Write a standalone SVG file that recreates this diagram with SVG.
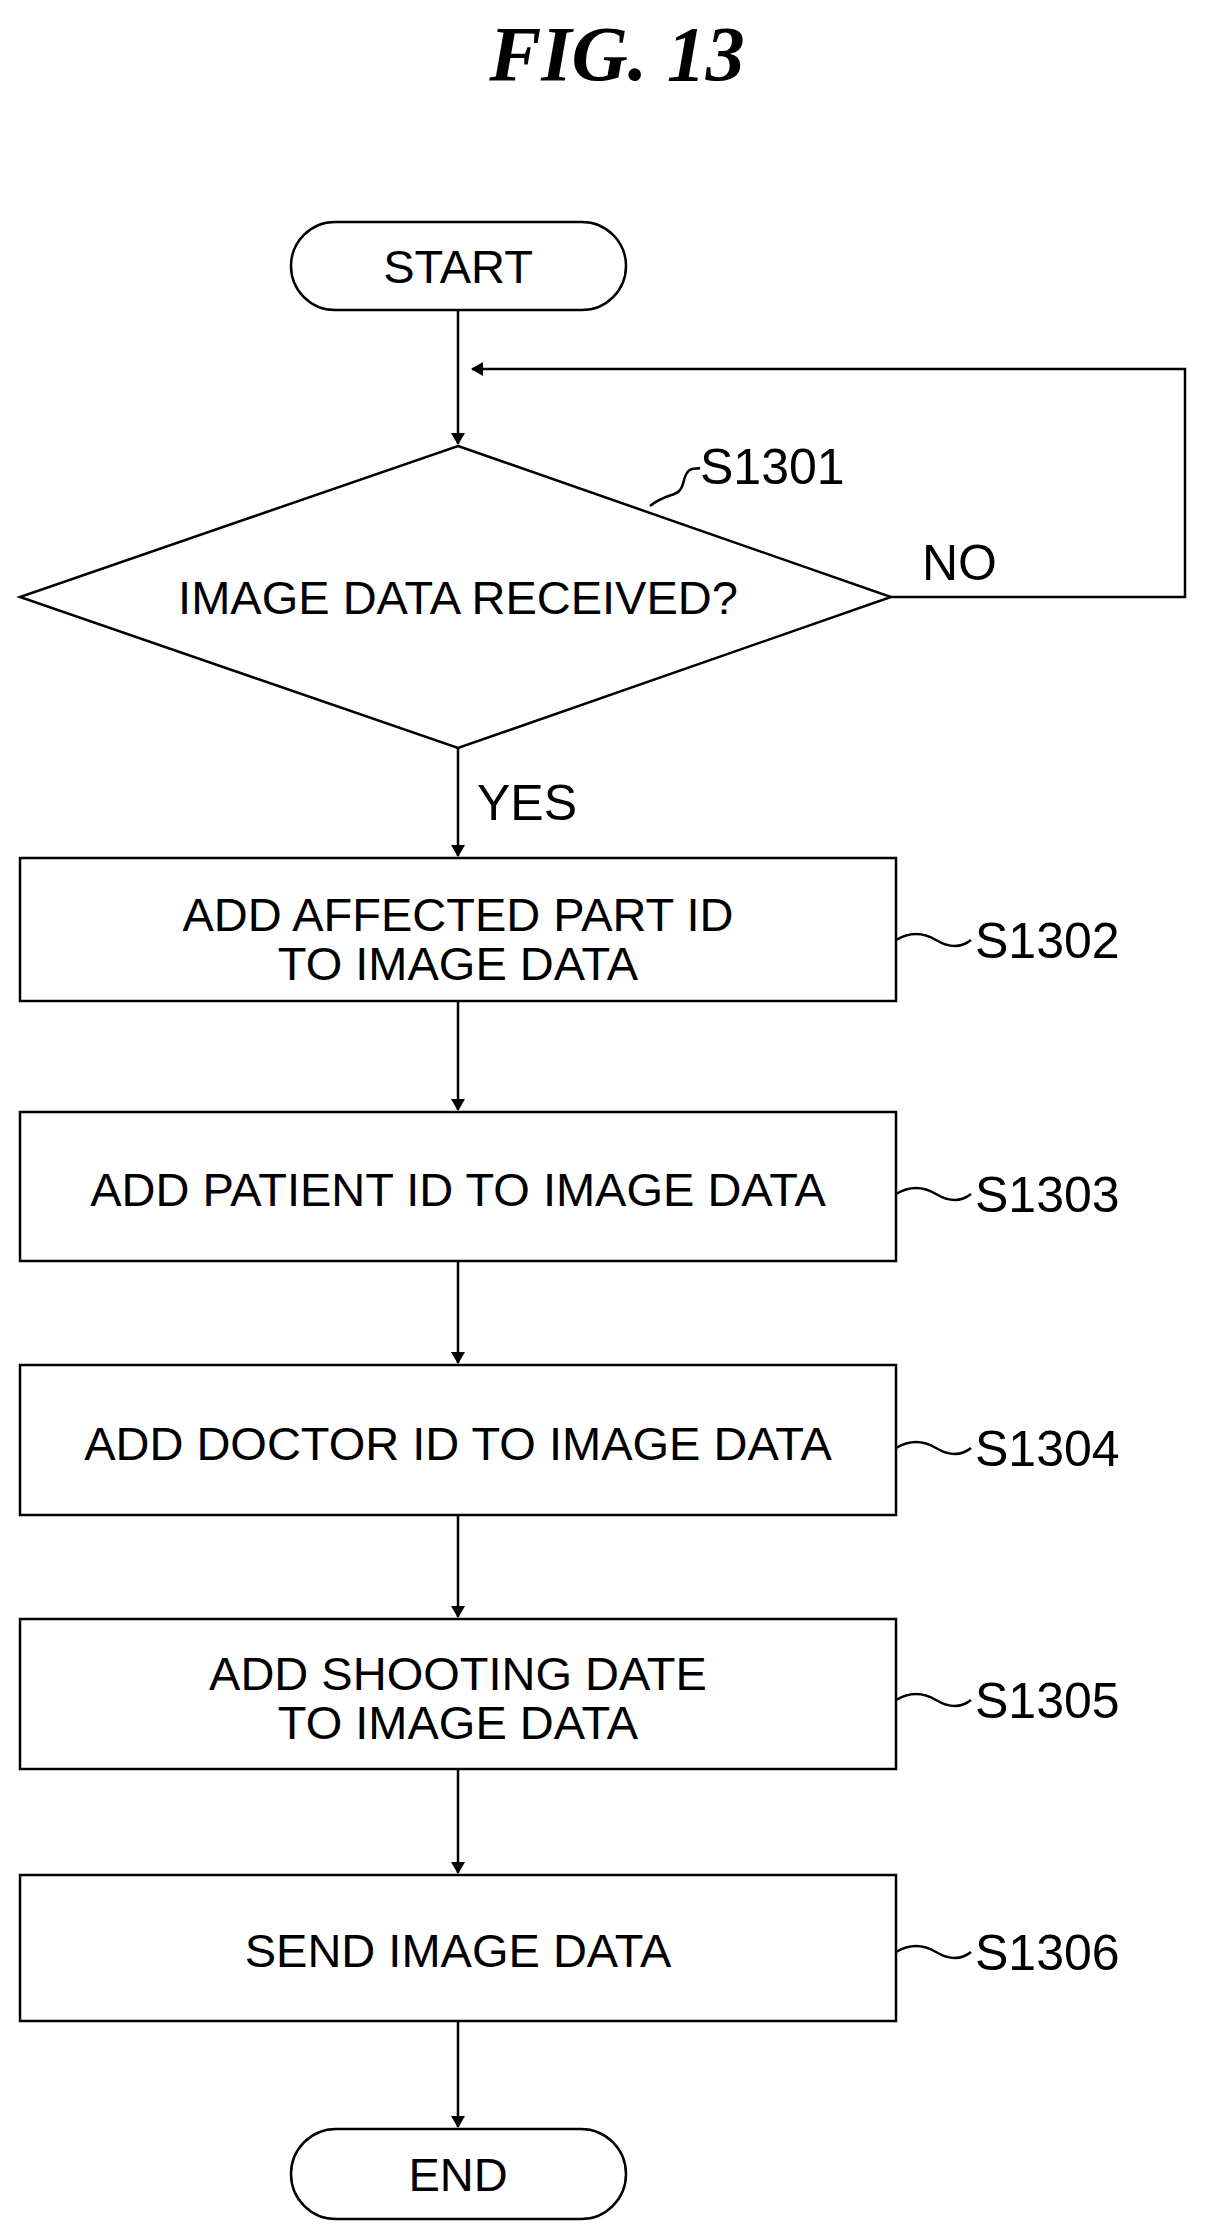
<svg xmlns="http://www.w3.org/2000/svg" width="1231" height="2234" viewBox="0 0 1231 2234">
<style>
.s{fill:none;stroke:#000;stroke-width:2.5}
.t{font-family:"Liberation Sans",Arial,sans-serif;font-size:47px;fill:#000;text-anchor:middle}
.l{font-family:"Liberation Sans",Arial,sans-serif;font-size:50px;fill:#000}
</style>
<defs><marker id="a" markerWidth="12" markerHeight="14" refX="11" refY="7" orient="auto" markerUnits="userSpaceOnUse"><path d="M0,0 L12,7 L0,14 Z" fill="#000"/></marker></defs>
<rect width="1231" height="2234" fill="#fff"/>
<text x="617" y="80" style="font-family:'Liberation Serif',serif;font-size:78px;font-weight:bold;font-style:italic" text-anchor="middle">FIG. 13</text>
<g id="start"><rect class="s" x="291" y="222" width="335" height="88" rx="44"/><text class="t" x="458" y="283">START</text></g>
<g id="s1301"><polygon class="s" points="458,446 891,597 458,748 20,597"/><text class="t" x="458" y="614">IMAGE DATA RECEIVED?</text>
<path class="s" d="M650,506 C670,490 680,500 684,480 C688,465 695,470 700,468"/><text class="l" x="700" y="484">S1301</text></g>
<g id="s1302"><rect class="s" x="20" y="858" width="876" height="143"/><text class="t" x="458" y="931">ADD AFFECTED PART ID</text><text class="t" x="458" y="980">TO IMAGE DATA</text><path class="s" d="M896,940 q20,-12 40,0 t35,0"/><text class="l" x="975" y="958">S1302</text></g>
<g id="s1303"><rect class="s" x="20" y="1112" width="876" height="149"/><text class="t" x="458" y="1206">ADD PATIENT ID TO IMAGE DATA</text><path class="s" d="M896,1194 q20,-12 40,0 t35,0"/><text class="l" x="975" y="1212">S1303</text></g>
<g id="s1304"><rect class="s" x="20" y="1365" width="876" height="150"/><text class="t" x="458" y="1460">ADD DOCTOR ID TO IMAGE DATA</text><path class="s" d="M896,1448 q20,-12 40,0 t35,0"/><text class="l" x="975" y="1466">S1304</text></g>
<g id="s1305"><rect class="s" x="20" y="1619" width="876" height="150"/><text class="t" x="458" y="1690">ADD SHOOTING DATE</text><text class="t" x="458" y="1739">TO IMAGE DATA</text><path class="s" d="M896,1700 q20,-12 40,0 t35,0"/><text class="l" x="975" y="1718">S1305</text></g>
<g id="s1306"><rect class="s" x="20" y="1875" width="876" height="146"/><text class="t" x="458" y="1967">SEND IMAGE DATA</text><path class="s" d="M896,1952 q20,-12 40,0 t35,0"/><text class="l" x="975" y="1970">S1306</text></g>
<g id="end"><rect class="s" x="291" y="2129" width="335" height="90" rx="45"/><text class="t" x="458" y="2191">END</text></g>
<g id="connectors">
<line class="s" x1="458" y1="310" x2="458" y2="444" marker-end="url(#a)"/>
<polyline class="s" points="891,597 1185,597 1185,369 472,369" marker-end="url(#a)"/>
<line class="s" x1="458" y1="748" x2="458" y2="856" marker-end="url(#a)"/>
<line class="s" x1="458" y1="1001" x2="458" y2="1110" marker-end="url(#a)"/>
<line class="s" x1="458" y1="1261" x2="458" y2="1363" marker-end="url(#a)"/>
<line class="s" x1="458" y1="1515" x2="458" y2="1617" marker-end="url(#a)"/>
<line class="s" x1="458" y1="1769" x2="458" y2="1873" marker-end="url(#a)"/>
<line class="s" x1="458" y1="2021" x2="458" y2="2127" marker-end="url(#a)"/>
<text class="l" x="922" y="580">NO</text>
<text class="l" x="477" y="820">YES</text>
</g>
</svg>
